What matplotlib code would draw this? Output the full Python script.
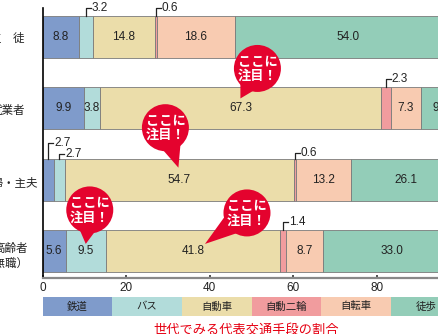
import matplotlib.pyplot as plt
import numpy as np
from matplotlib import font_manager
from matplotlib.patches import Circle, Polygon

plt.rcParams['font.family'] = ['Noto Sans CJK JP', 'DejaVu Sans']
names = {f.name for f in font_manager.fontManager.ttflist}
num_font = 'Liberation Sans Narrow' if 'Liberation Sans Narrow' in names else 'Liberation Sans'

# data
groups = ['生　徒', '就業者', '主婦・主夫', '高齢者\n（無職）']
modes = ['鉄道', 'バス', '自動車', '自動二輪', '自転車', '徒歩']
rail = [8.8, 9.9, 2.7, 5.6]
bus = [3.2, 3.8, 2.7, 9.5]
car = [14.8, 67.3, 54.7, 41.8]
moto = [0.6, 2.3, 0.6, 1.4]
bike = [18.6, 7.3, 13.2, 8.7]
walk = [54.0, 9.4, 26.1, 33.0]
title = '世代でみる代表交通手段の割合'

colors = ['#7F9BCB', '#B2DCDA', '#EBDDAA', '#F19C9E', '#F8CBB1', '#93CDB8']
red = '#E4032E'

W, H = 438, 334
fig = plt.figure(figsize=(W / 100, H / 100), dpi=100)
fig.patch.set_facecolor('white')

# main axes, runs past the right edge like the cropped original
x0, x100 = 42.5, 460.5
ytop, ybot = 8, 278
ax = fig.add_axes([x0 / W, (H - ybot) / H, (x100 - x0) / W, (ybot - ytop) / H])
ax.set_xlim(0, 100)
ax.set_ylim(3.38, -0.41)

series = [rail, bus, car, moto, bike, walk]
ypos = np.arange(len(groups))
left = np.zeros(len(groups))
bh = 0.59
for vals, col, name in zip(series, colors, modes):
    ax.barh(ypos, vals, left=left, height=bh, color=col, edgecolor='#7a7a7a', linewidth=0.6)
    left = left + np.array(vals)

for s in ['top', 'right']:
    ax.spines[s].set_visible(False)
ax.spines['left'].set_color('black')
ax.spines['left'].set_linewidth(1.2)
ax.spines['bottom'].set_color('#888888')
ax.spines['bottom'].set_linewidth(1.6)
ax.set_yticks([])
ax.set_xticks([0, 20, 40, 60, 80])
ax.tick_params(axis='x', direction='in', length=2, width=1.2, color='#333333', pad=3,
               labelsize=8.5, labelcolor='#222222')
for t in ax.get_xticklabels():
    t.set_fontfamily(num_font)

# overlay in pixel coords for labels, brackets and bubbles
ov = fig.add_axes([0, 0, 1, 1], zorder=5)
ov.set_xlim(0, W)
ov.set_ylim(H, 0)
ov.axis('off')
ov.patch.set_alpha(0)


def px(x, y):
    dx, dy = ax.transData.transform((x, y))
    return dx, H - dy


# row labels (cut off at the left edge, as in the original)
label_right = [25, 25, 38, 28]
label_dy = [1, 1.5, 3.5, 5]
for i, g in enumerate(groups):
    _, gy = px(0, ypos[i])
    ov.text(label_right[i], gy + label_dy[i], g, ha='right', va='center', fontsize=8.3,
            color='#222222', linespacing=1.2, multialignment='right')

rise = {(2, 0): 16, (2, 1): 5, (2, 3): 6}
cum = np.cumsum(np.array(series), axis=0)
for r in range(len(groups)):
    for m in range(len(modes)):
        v = series[m][r]
        c = cum[m][r] - v / 2
        cx, cy = px(c, ypos[r])
        if v < 3.5:
            _, btop = px(c, ypos[r] - bh / 2)
            h = rise.get((r, m), 8)
            ov.plot([cx, cx, cx + 5], [btop, btop - h, btop - h], color='#222222', lw=0.9)
            ov.text(cx + 6, btop - h, f'{v:.1f}', ha='left', va='center', fontsize=8.5,
                    family=num_font, color='#222222')
        else:
            ov.text(cx, cy, f'{v:.1f}', ha='center', va='center', fontsize=8.5,
                    family=num_font, color='#222222', clip_on=False)

# "ここに注目！" bubbles: (row, mode, tip offset, centre offset) in px from the label
bubbles = [(1, 2, (0, -10), (17, -40)),
           (2, 2, (-1, -12), (-14, -52)),
           (3, 1, (0, -7), (4, -41)),
           (3, 2, (12, -7), (54, -38))]
rad = 23.5
for r, m, tip, cen in bubbles:
    v = series[m][r]
    lx, ly = px(cum[m][r] - v / 2, ypos[r])
    tx, ty = lx + tip[0], ly + tip[1]
    ccx, ccy = lx + cen[0], ly + cen[1]
    u = np.array([tx - ccx, ty - ccy])
    u = u / np.hypot(*u)
    p = np.array([-u[1], u[0]])
    base = np.array([ccx, ccy]) + u * rad * 0.5
    ov.add_patch(Polygon([(tx, ty), tuple(base + p * rad * 0.55), tuple(base - p * rad * 0.55)],
                         closed=True, color=red, lw=0))
    ov.add_patch(Circle((ccx, ccy), rad, color=red, lw=0))
    ov.text(ccx, ccy - 6.5, 'ここに', ha='center', va='center', color='white',
            fontsize=9.5, fontweight='bold')
    ov.text(ccx, ccy + 7.5, '注目！', ha='center', va='center', color='white',
            fontsize=9.5, fontweight='bold')

# legend strip
lg = fig.add_axes([x0 / W, (H - 316) / H, (x100 - x0) / W, 19 / H])
lg.set_xlim(0, len(modes))
lg.set_ylim(0, 1)
lg.axis('off')
for i, (name, col) in enumerate(zip(modes, colors)):
    lg.barh(0.5, 1, left=i, height=1, color=col, linewidth=0)
    lg.text(i + 0.5, 0.5, name, ha='center', va='center', fontsize=7.5, color='#222222')

fig.text(246 / W, (H - 331.5) / H, title, ha='center', va='center', fontsize=9.5, color='#E60012')

fig.savefig('out.png', dpi=100)
